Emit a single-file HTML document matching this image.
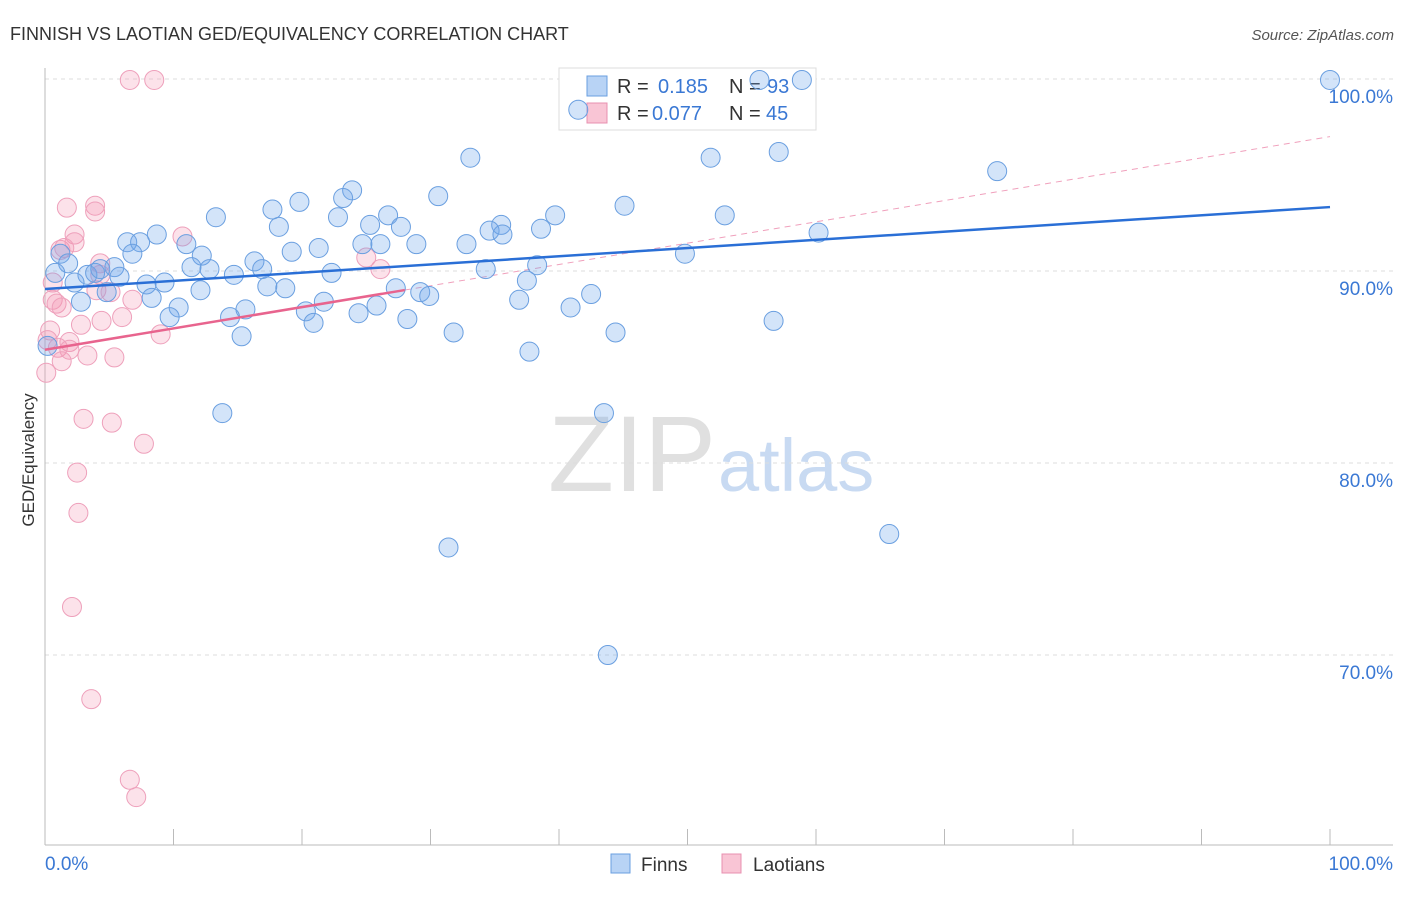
<!DOCTYPE html>
<html><head><meta charset="utf-8"><style>
body{margin:0;background:#fff;font-family:"Liberation Sans",sans-serif;}
svg text{font-family:"Liberation Sans",sans-serif;}
</style></head><body>
<svg id="chart" width="1406" height="892">
<text x="10" y="40" font-size="18" fill="#333">FINNISH VS LAOTIAN GED/EQUIVALENCY CORRELATION CHART</text>
<text x="1394" y="40" font-size="15" fill="#555" text-anchor="end" font-style="italic">Source: ZipAtlas.com</text>
<text x="0" y="0" transform="translate(34,460) rotate(-90)" font-size="17" fill="#333" text-anchor="middle">GED/Equivalency</text>
<text x="716" y="491" font-size="108" fill="#e0e0e0" text-anchor="end" font-family="Liberation Serif">ZIP</text>
<text x="718" y="491" font-size="74" fill="#c8daf2">atlas</text>
<g id="grid"></g><g id="axes"></g><g id="lines"></g>
<g>
<rect x="559" y="68" width="257" height="62" fill="#fff" stroke="#ddd"/>
<rect x="587" y="76" width="20" height="20" fill="#b8d3f5" stroke="#6a9fe0"/>
<text x="617" y="93" font-size="20" fill="#333">R = </text><text x="658" y="93" font-size="20" fill="#3a78d4">0.185</text>
<text x="729" y="93" font-size="20" fill="#333">N = </text><text x="767" y="93" font-size="20" fill="#3a78d4">93</text>
<rect x="587" y="103" width="20" height="20" fill="#f9c5d5" stroke="#e890b0"/>
<text x="617" y="120" font-size="20" fill="#333">R = </text><text x="652" y="120" font-size="20" fill="#3a78d4">0.077</text>
<text x="729" y="120" font-size="20" fill="#333">N = </text><text x="766" y="120" font-size="20" fill="#3a78d4">45</text>
</g>
<g id="pts"></g>
<g>
<rect x="611" y="854" width="19" height="19" fill="#b8d3f5" stroke="#6a9fe0"/>
<text x="641" y="871" font-size="19" fill="#333">Finns</text>
<rect x="722" y="854" width="19" height="19" fill="#f9c5d5" stroke="#e890b0"/>
<text x="753" y="871" font-size="19" fill="#333">Laotians</text>
</g>
</svg>
<script>
const yTicks=[100,90,80,70];
const xTickLabels=["0.0%","100.0%"];
const finnsX=[100,58.9,55.6,41.5,33.1,51.8,57.1,74.1,23.9,30.6,23.2,19.8,17.7,45.1,39.7,52.9,26.7,13.3,22.8,18.2,25.3,27.7,35.5,34.6,38.6,35.6,60.2,8.7,6.4,7.4,11,24.7,26.1,28.9,32.8,19.2,21.3,6.8,12.2,49.8,1.2,1.8,16.3,0.8,3.3,3.9,5.4,4.3,5.8,11.4,12.8,14.7,16.9,22.3,34.3,38.3,2.3,7.9,9.3,4.8,12.1,17.3,18.7,27.3,29.2,29.9,37.5,42.5,2.8,8.3,21.7,36.9,10.4,15.6,20.3,24.4,25.8,40.9,9.7,14.4,20.9,28.2,56.7,15.3,31.8,44.4,37.7,0.2,13.8,43.5,31.4,65.7,43.8];
const finnsY=[99.95,99.95,99.95,98.4,95.9,95.9,96.2,95.2,94.2,93.9,93.8,93.6,93.2,93.4,92.9,92.9,92.9,92.8,92.8,92.3,92.4,92.3,92.4,92.1,92.2,91.9,92.0,91.9,91.5,91.5,91.4,91.4,91.4,91.4,91.4,91.0,91.2,90.9,90.8,90.9,90.9,90.4,90.5,89.9,89.8,89.9,90.2,90.1,89.7,90.2,90.1,89.8,90.1,89.9,90.1,90.3,89.4,89.3,89.4,88.9,89.0,89.2,89.1,89.1,88.9,88.7,89.5,88.8,88.4,88.6,88.4,88.5,88.1,88.0,87.9,87.8,88.2,88.1,87.6,87.6,87.3,87.5,87.4,86.6,86.8,86.8,85.8,86.1,82.6,82.6,75.6,76.3,70.0];
const laoX=[6.6,8.5,1.7,3.9,3.9,2.3,10.7,2.3,1.2,1.5,25,26.1,4.3,4.3,0.6,4.0,5.1,6.8,0.6,0.9,1.3,6.0,4.4,2.8,0.4,9.0,1.9,0.2,1.0,1.9,3.3,5.4,1.3,0.1,3.0,5.2,7.7,2.5,2.6,2.1,3.6,6.6,7.1];
const laoY=[99.95,99.95,93.3,93.4,93.1,91.9,91.8,91.5,91.1,91.2,90.7,90.1,90.4,89.8,89.4,89.0,88.9,88.5,88.5,88.3,88.1,87.6,87.4,87.2,86.9,86.7,86.3,86.4,86.0,85.9,85.6,85.5,85.3,84.7,82.3,82.1,81.0,79.5,77.4,72.5,67.7,63.5,62.6];
const finnsTrend=[89.06,93.33];
const laoTrend=[85.9,97.0];
const laoSolidEnd=28;
const NS="http://www.w3.org/2000/svg";
const X0=45,X1=1330,Y100=79,PXPER=19.2;
const sx=v=>X0+(X1-X0)*v/100, sy=v=>Y100+(100-v)*PXPER;
function mk(t,a,p){const e=document.createElementNS(NS,t);for(const k in a)e.setAttribute(k,a[k]);p.appendChild(e);return e;}
const grid=document.getElementById('grid'),axes=document.getElementById('axes'),lines=document.getElementById('lines'),pts=document.getElementById('pts');
yTicks.forEach(v=>{
 const l=mk('line',{x1:X0,x2:1393,y1:sy(v),y2:sy(v),stroke:'#ddd','stroke-dasharray':'4,4'},grid);
 
 
 const t=mk('text',{x:1393,y:sy(v)+24,'font-size':19,fill:'#3a78d4','text-anchor':'end'},grid);t.textContent=v.toFixed(1)+'%';
 
 
});
const ya=mk('line',{x1:X0,x2:X0,y1:68,y2:845,stroke:'#bbb'},axes);


const xa=mk('line',{x1:X0,x2:1393,y1:845,y2:845,stroke:'#bbb'},axes);


for(let i=0;i<=10;i++){const tk=mk('line',{x1:sx(i*10),x2:sx(i*10),y1:829,y2:845,stroke:'#bbb'},axes);
 
 }
[[0,'start'],[100,'end']].forEach((d,i)=>{const t=mk('text',{x:i?1393:45,y:870,'font-size':19,fill:'#3a78d4','text-anchor':d[1]},axes);t.textContent=xTickLabels[i];
 
 });
const at=(tr,x)=>tr[0]+(tr[1]-tr[0])*x/100;
const ld=mk('line',{x1:sx(laoSolidEnd),y1:sy(at(laoTrend,laoSolidEnd)),x2:sx(100),y2:sy(laoTrend[1]),stroke:'#f0a0bc','stroke-dasharray':'6,5'},lines);


function dots(xs,ys,fill,stroke,name){xs.forEach((x,i)=>{const c=mk('circle',{cx:sx(x),cy:sy(ys[i]),r:9.5,fill:fill,stroke:stroke,'stroke-width':1},pts);
 
 });}
dots(laoX,laoY,'rgba(244,150,180,0.28)','#eea0bb','laotians-point');
dots(finnsX,finnsY,'rgba(110,165,235,0.3)','#6a9fe0','finns-point');
const fl=mk('line',{x1:sx(0),y1:sy(finnsTrend[0]),x2:sx(100),y2:sy(finnsTrend[1]),stroke:'#2a6fd6','stroke-width':2.5},pts);


const ll=mk('line',{x1:sx(0),y1:sy(laoTrend[0]),x2:sx(laoSolidEnd),y2:sy(at(laoTrend,laoSolidEnd)),stroke:'#e8648e','stroke-width':2.5},pts);


</script>
</body></html>
